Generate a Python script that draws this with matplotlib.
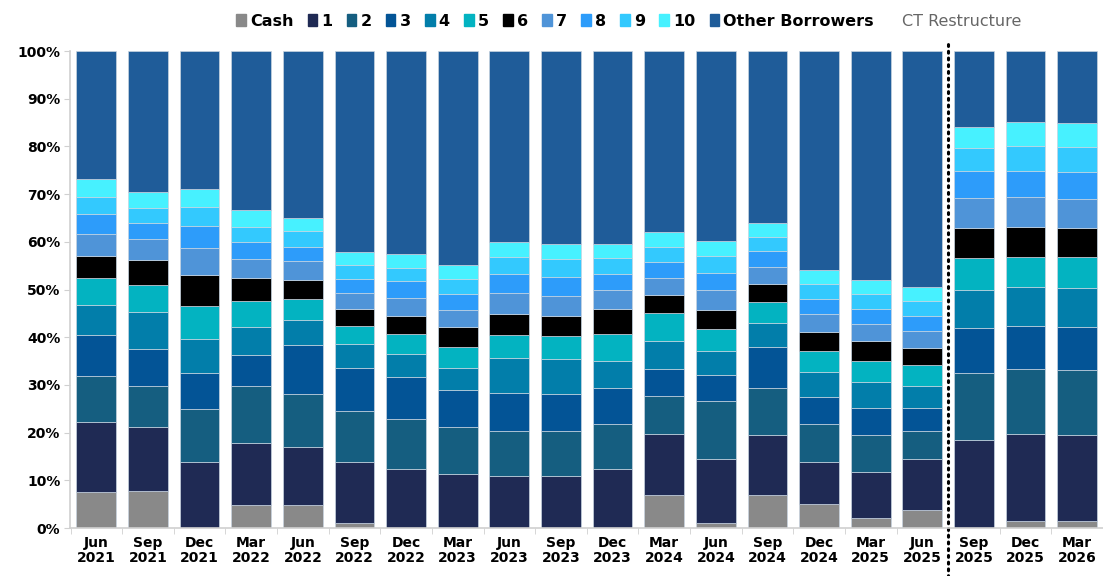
import numpy as np
import matplotlib
matplotlib.use("Agg")
import matplotlib.pyplot as plt
from matplotlib.patches import Patch
from matplotlib.lines import Line2D

# quarters on the x axis
months = ["Jun", "Sep", "Dec", "Mar", "Jun", "Sep", "Dec", "Mar", "Jun", "Sep",
          "Dec", "Mar", "Jun", "Sep", "Dec", "Mar", "Jun", "Sep", "Dec", "Mar"]
years = ["2021", "2021", "2021", "2022", "2022", "2022", "2022", "2023", "2023", "2023",
         "2023", "2024", "2024", "2024", "2024", "2025", "2025", "2025", "2025", "2026"]

# share of portfolio (%) per segment
cash = [7.6, 7.8, 0.0, 4.9, 4.9, 1.0, 0.0, 0.0, 0.0, 0.0, 0.0, 6.9, 1.0, 6.9, 5.0, 2.2, 3.8, 0.0, 1.5, 1.4]
b1 = [14.7, 13.4, 13.8, 13.0, 12.0, 12.8, 12.3, 11.3, 10.9, 10.9, 12.3, 12.9, 13.5, 12.6, 8.8, 9.6, 10.6, 18.5, 18.2, 18.1]
b2 = [9.6, 8.6, 11.2, 11.9, 11.3, 10.8, 10.5, 9.9, 9.5, 9.5, 9.5, 7.8, 12.2, 9.8, 8.0, 7.8, 6.0, 14.1, 13.7, 13.6]
b3 = [8.5, 7.8, 7.5, 6.4, 10.2, 9.0, 8.8, 7.8, 7.9, 7.7, 7.6, 5.8, 5.3, 8.6, 5.6, 5.6, 4.8, 9.4, 9.0, 9.1]
b4 = [6.3, 7.7, 7.2, 6.0, 5.2, 4.9, 4.8, 4.6, 7.3, 7.4, 5.6, 5.9, 5.2, 5.0, 5.4, 5.4, 4.6, 8.0, 8.1, 8.2]
b5 = [5.7, 5.7, 6.8, 5.4, 4.5, 3.8, 4.3, 4.4, 4.9, 4.8, 5.7, 5.7, 4.6, 4.4, 4.4, 4.4, 4.4, 6.6, 6.4, 6.4]
b6 = [4.7, 5.1, 6.5, 4.8, 4.0, 3.6, 3.8, 4.2, 4.3, 4.2, 5.3, 3.8, 4.0, 3.8, 4.0, 4.2, 3.5, 6.4, 6.3, 6.2]
b7 = [4.6, 4.4, 5.8, 4.0, 3.8, 3.4, 3.7, 3.5, 4.4, 4.2, 3.9, 3.6, 4.1, 3.6, 3.6, 3.5, 3.6, 6.2, 6.2, 6.0]
b8 = [4.1, 3.4, 4.6, 3.5, 3.1, 3.0, 3.6, 3.3, 4.0, 3.9, 3.4, 3.3, 3.6, 3.3, 3.3, 3.3, 3.1, 5.6, 5.4, 5.6]
b9 = [3.6, 3.2, 3.9, 3.3, 3.2, 2.9, 2.8, 3.2, 3.6, 3.8, 3.3, 3.3, 3.6, 3.0, 3.0, 3.1, 3.1, 4.8, 5.2, 5.3]
b10 = [3.7, 3.3, 3.7, 3.4, 2.9, 2.7, 2.8, 3.0, 3.1, 3.2, 3.0, 3.0, 3.0, 3.0, 3.0, 3.0, 3.1, 4.4, 5.1, 5.1]

labels = ["Cash", "1", "2", "3", "4", "5", "6", "7", "8", "9", "10", "Other Borrowers"]
colors = ["#898989", "#1F2A54", "#155E80", "#035496", "#027EAA", "#03B3C1",
          "#000000", "#4F94D8", "#2D9CFA", "#33C9FE", "#47F1FF", "#1F5C99"]

series = [cash, b1, b2, b3, b4, b5, b6, b7, b8, b9, b10]
known = np.sum(series, axis=0)
other = 100 - known
series.append(list(other))

fig = plt.figure(figsize=(11.03, 5.76), dpi=100)
ax = fig.add_axes([0.0635, 0.0833, 0.9365, 0.828])

x = np.arange(len(months))
bottom = np.zeros(len(months))
for vals, lab, col in zip(series, labels, colors):
    ax.bar(x, vals, bottom=bottom, width=0.77, color=col, label=lab,
           edgecolor="#c8d4e0", linewidth=0.5)
    bottom += np.array(vals)

ax.set_ylim(0, 100)
ax.set_xlim(-0.51, 19.33)
ax.set_yticks(range(0, 101, 10))
ax.set_yticklabels([f"{v}%" for v in range(0, 101, 10)], fontsize=10, fontweight="bold")
ax.set_xticks(x)
ax.set_xticklabels([f"{m}\n{y}" for m, y in zip(months, years)], fontsize=10,
                   fontweight="bold", linespacing=1.1)
ax.set_xticks(np.arange(-0.5, len(months), 1), minor=True)
ax.tick_params(axis="x", which="major", length=0, pad=6)
ax.tick_params(axis="x", which="minor", length=4, color="#d0d0d0")
ax.tick_params(axis="y", length=4, color="#d0d0d0", pad=3)
for s in ["top", "right"]:
    ax.spines[s].set_visible(False)
for s in ["left", "bottom"]:
    ax.spines[s].set_color("#d0d0d0")
    ax.spines[s].set_linewidth(1.2)

# CT restructure marker
ax.plot([16.5, 16.5], [-11, 102], color="black", linestyle=(0, (0.6, 1.6)),
        linewidth=2.2, clip_on=False, dash_capstyle="round")

handles = [Patch(color=c, label=l) for l, c in zip(labels, colors)]
handles.append(Line2D([], [], color="none", label="CT Restructure"))
leg = fig.legend(handles=handles, loc="center", bbox_to_anchor=(0.57, 0.963), ncol=13,
                 frameon=False, handlelength=0.6, handleheight=0.8,
                 handletextpad=0.25, columnspacing=0.9, prop={"weight": "bold", "size": 11.5})
for t in leg.get_texts():
    if t.get_text() == "CT Restructure":
        t.set_fontweight("normal")
        t.set_color("#666666")

fig.savefig("out.png", dpi=100)
